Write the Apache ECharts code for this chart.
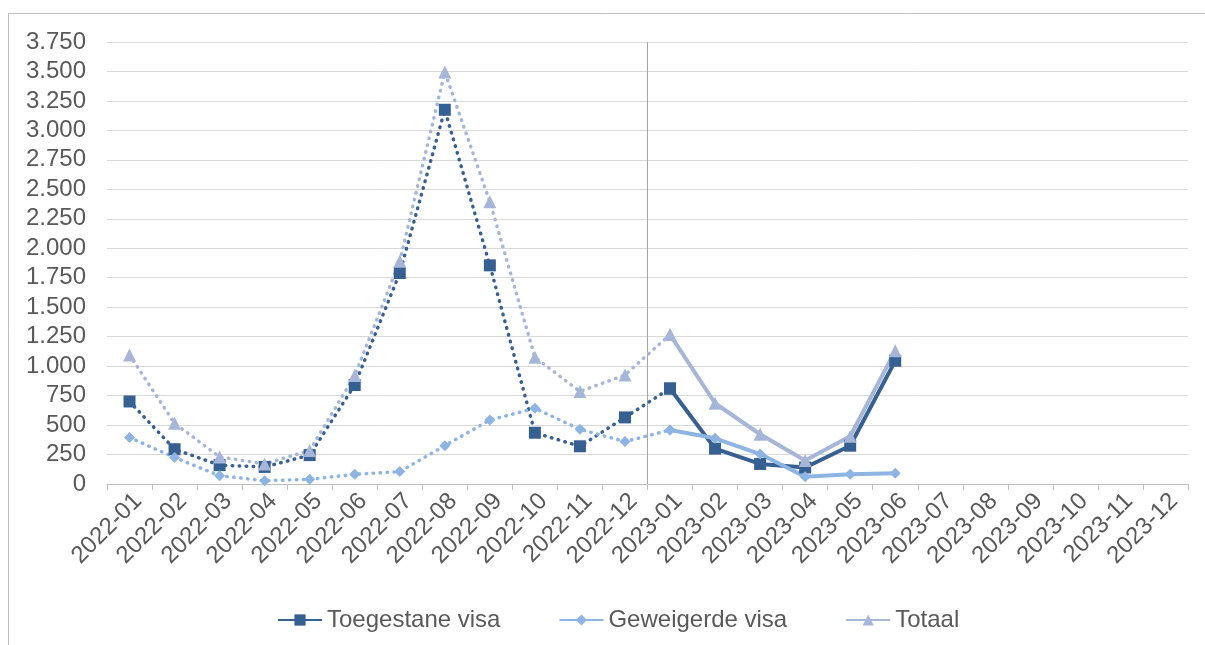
<!DOCTYPE html>
<html>
<head>
<meta charset="utf-8">
<script src="https://cdn.jsdelivr.net/npm/echarts@6/dist/echarts.min.js"></script>
<style>
html,body{margin:0;padding:0;background:#fff;}
#chart{width:1205px;height:645px;}
</style>
</head>
<body>
<div id="chart"></div>
<script>
var categories = ['2022-01','2022-02','2022-03','2022-04','2022-05','2022-06','2022-07','2022-08','2022-09','2022-10','2022-11','2022-12',
                  '2023-01','2023-02','2023-03','2023-04','2023-05','2023-06','2023-07','2023-08','2023-09','2023-10','2023-11','2023-12'];
var toegestane = [700, 295, 160, 145, 245, 840, 1790, 3175, 1855, 435, 320, 565, 810, 300, 170, 140, 325, 1045];
var geweigerde = [395, 225, 70, 28, 40, 82, 105, 325, 543, 642, 464, 360, 458, 388, 254, 62, 82, 91];
var totaal     = [1095, 515, 230, 170, 285, 920, 1890, 3495, 2395, 1075, 785, 925, 1268, 685, 422, 200, 405, 1130];
var yTicks = {min: 0, max: 3750, interval: 250};
var splitIndex = 12; // first month of 2023

var FONT = "'Liberation Sans', Arial, sans-serif";
var TXT = '#595959';

function part(arr, from, to) {
  return categories.map(function (c, i) {
    return (i >= from && i <= to && i < arr.length) ? arr[i] : '-';
  });
}

var defs = [
  {name: 'Toegestane visa', data: toegestane, color: '#376092', symbol: 'rect', size: 12},
  {name: 'Geweigerde visa', data: geweigerde, color: '#8DB4E3', symbol: 'diamond', size: 11},
  {name: 'Totaal', data: totaal, color: '#A6B6D8', symbol: 'triangle', size: 13}
];

var series = [];
defs.forEach(function (d) {
  series.push({
    name: d.name + ' (2022)',
    type: 'line',
    data: part(d.data, 0, splitIndex),
    symbol: d.symbol,
    symbolSize: d.size,
    showAllSymbol: true,
    itemStyle: {color: d.color},
    lineStyle: {color: d.color, width: 3.5, type: [0.5, 6.5], cap: 'round'},
    emphasis: {disabled: true},
    animation: false
  });
});
defs.forEach(function (d) {
  series.push({
    name: d.name,
    type: 'line',
    data: part(d.data, splitIndex, categories.length - 1),
    symbol: d.symbol,
    symbolSize: d.size,
    showAllSymbol: true,
    itemStyle: {color: d.color},
    lineStyle: {color: d.color, width: 4},
    emphasis: {disabled: true},
    animation: false
  });
});

function fmt(v) {
  if (v >= 1000) {
    var t = Math.floor(v / 1000), r = String(v % 1000);
    while (r.length < 3) r = '0' + r;
    return t + '.' + r;
  }
  return String(v);
}

// one colour per category boundary line; only the 2022/2023 boundary is visible
var splitColors = [];
for (var i = 0; i <= categories.length; i++) {
  splitColors.push(i === splitIndex ? '#a6a6a6' : 'rgba(0,0,0,0)');
}

var chart = echarts.init(document.getElementById('chart'), null, {renderer: 'canvas'});
chart.setOption({
  animation: false,
  backgroundColor: '#fff',
  textStyle: {fontFamily: FONT},
  graphic: [{
    type: 'rect', silent: true,
    shape: {x: 8.5, y: 13.5, width: 1300, height: 700},
    style: {fill: 'none', stroke: '#bfbfbf', lineWidth: 1}
  }],
  grid: {left: 107, right: 17, top: 42, bottom: 161, containLabel: false},
  legend: {
    data: defs.map(function (d) { return d.name; }),
    top: 603,
    left: 272,
    itemWidth: 44,
    itemHeight: 14,
    itemGap: 58,
    textStyle: {color: TXT, fontSize: 24, fontFamily: FONT},
    selectedMode: false
  },
  xAxis: {
    type: 'category',
    data: categories,
    boundaryGap: true,
    axisLine: {lineStyle: {color: '#bfbfbf', width: 1}},
    axisTick: {show: true, length: 6, lineStyle: {color: '#bfbfbf'}},
    axisLabel: {
      interval: 0, rotate: 45, fontSize: 24, color: TXT, fontFamily: FONT,
      margin: 5, verticalAlign: 'top'
    },
    splitLine: {
      show: true,
      interval: 0,
      lineStyle: {color: splitColors, width: 1}
    }
  },
  yAxis: {
    type: 'value',
    min: yTicks.min, max: yTicks.max, interval: yTicks.interval,
    axisLine: {show: false},
    axisTick: {show: false},
    axisLabel: {fontSize: 24, color: TXT, fontFamily: FONT, margin: 21, formatter: fmt},
    splitLine: {lineStyle: {color: '#d9d9d9', width: 1}}
  },
  series: series
});
</script>
</body>
</html>
